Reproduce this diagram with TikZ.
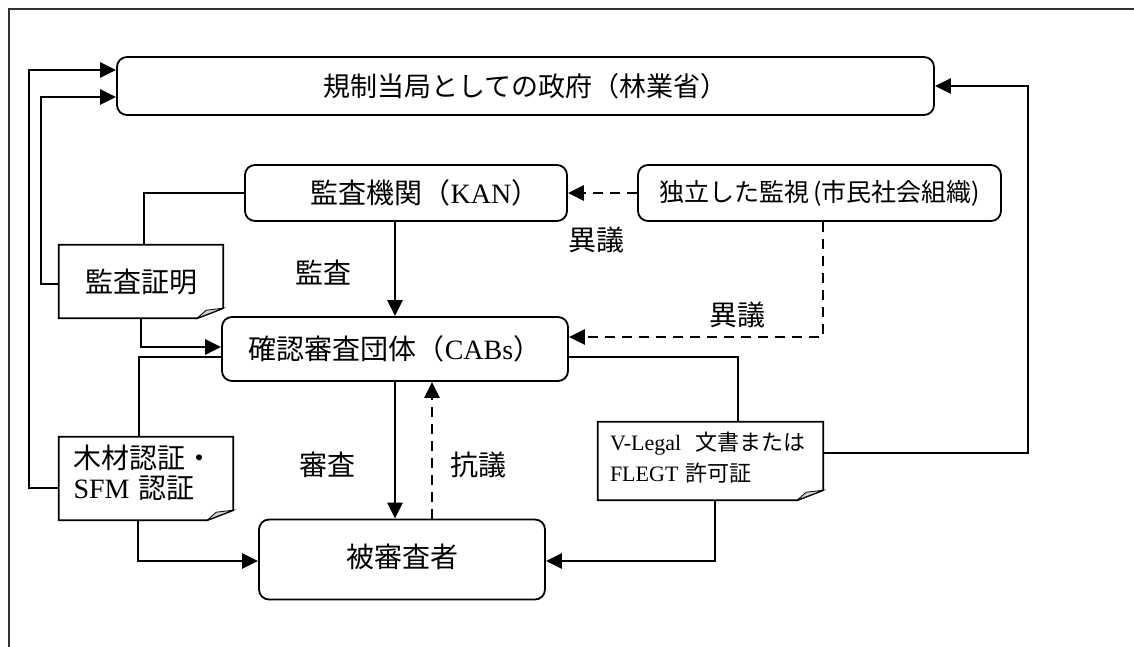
\documentclass[tikz,border=0pt]{standalone}
\usepackage{fontspec}
\setmainfont{Liberation Serif}
\newfontfamily\jp{Noto Sans CJK JP}
\usetikzlibrary{arrows.meta,calc}
\newcommand\docoutline[1]{%
  \draw[line width=1.8pt] (#1.north west) -- (#1.north east) -- ([yshift=10pt]#1.south east) -- ([xshift=-26pt]#1.south east) -- (#1.south west) -- cycle;
  \filldraw[fill=gray!35, line width=0.8pt] ([xshift=-26pt]#1.south east) -- ([xshift=-17pt,yshift=8pt]#1.south east) -- ([yshift=10pt]#1.south east) -- cycle;}
\tikzset{
  box/.style={draw, line width=1.8pt, rounded corners=10pt, inner sep=0pt, font=\fontsize{28}{30}\selectfont},
  doc/.style={inner ysep=0pt, font=\fontsize{28}{30}\selectfont},
  arr/.style={line width=2.4pt, -{Triangle[length=16pt,width=15pt]}},
  dasharr/.style={arr, dash pattern=on 10pt off 7pt},
  link/.style={line width=1.4pt},
  lbl/.style={font=\fontsize{28}{30}\selectfont, inner sep=0pt}
}
\begin{document}
\begin{tikzpicture}[x=1pt,y=-1pt]
\useasboundingbox (0,0) rectangle (1134,647);
\draw[line width=1.2pt, gray!40!black] (9,647) -- (9,9) -- (1134,9);

% nodes
\node[box, minimum width=817pt, minimum height=58pt, font=\fontsize{27}{30}\selectfont] (gov) at (525.5,86) {{\jp 規制当局としての政府（林業省）}};
\node[box, minimum width=322pt, minimum height=56pt] (kan) at (406,193) {\hspace*{38pt}{\jp 監査機関（}KAN{\jp ）}};
\node[box, minimum width=363pt, minimum height=56pt, font=\fontsize{25}{30}\selectfont] (indep) at (819.5,193) {{\jp 独立した監視\hspace{4pt}(市民社会組織)}};
\node[box, minimum width=346pt, minimum height=64pt] (cab) at (395,349) {{\jp 確認審査団体（}CABs{\jp ）}};
\node[box, minimum width=286pt, minimum height=80pt, text height=22pt, text depth=6pt] (hi) at (402,559.5) {{\jp 被審査者}};

\node[doc, minimum width=164pt, minimum height=73pt, text height=26pt, text depth=4pt, inner xsep=0pt] (doc1) at (141,281.5) {{\jp 監査証明}};
\node[doc, minimum width=174pt, minimum height=83pt, text width=145pt, inner xsep=14.5pt, align=left, text height=20pt, text depth=41pt] (doc2) at (146,478.5) {{\jp 木材認証・}\\SFM {\jp 認証}};
\node[doc, minimum width=225pt, minimum height=78pt, text width=201pt, inner xsep=12pt, align=left, font=\fontsize{22}{31}\selectfont, text height=18pt, text depth=39.2pt] (doc3) at (710.5,461) {V-Legal\ \ {\jp 文書または}\\FLEGT {\jp 許可証}};
\docoutline{doc1}
\docoutline{doc2}
\docoutline{doc3}

% labels
\node[lbl] (l1) at (323,273) {{\jp 監査}};
\node[lbl] (l2) at (596,240) {{\jp 異議}};
\node[lbl] (l3) at (737,315) {{\jp 異議}};
\node[lbl] (l4) at (327,465) {{\jp 審査}};
\node[lbl] (l5) at (478,465) {{\jp 抗議}};

% connectors
\draw[arr] ([yshift=-9.5pt]doc2.west) -- ++(-30,0) |- ([yshift=16pt]gov.west);
\draw[arr] ([yshift=-2.5pt]doc1.west) -- ++(-18,0) |- ([yshift=-11pt]gov.west);
\draw[arr] ([yshift=8pt]doc3.east) -- ++(205,0) |- (gov.east);
\draw[link] (kan.west) -| ([xshift=3pt]doc1.north);
\draw[arr] (doc1.south) |- ([yshift=2pt]cab.west);
\draw[link] ([yshift=-8pt]cab.west) -| ([xshift=-7pt]doc2.north);
\draw[arr] ([xshift=-8pt]doc2.south) |- ([yshift=-1.5pt]hi.west);
\draw[link] ([yshift=-8pt]cab.east) -| ([xshift=27.5pt]doc3.north);
\draw[arr] ([xshift=4.5pt]doc3.south) |- ([yshift=-1.5pt]hi.east);
\draw[arr] (kan.south -| cab.north) -- (cab.north);
\draw[dasharr] (indep.west) -- (kan.east);
\draw[dasharr] ([xshift=3.5pt]indep.south) |- ([yshift=12pt]cab.east);
\draw[arr] (cab.south) -- (cab.south |- hi.north);
\draw[dasharr] ([xshift=30pt]hi.north) -- ([xshift=30pt]hi.north |- cab.south);
\end{tikzpicture}
\end{document}
